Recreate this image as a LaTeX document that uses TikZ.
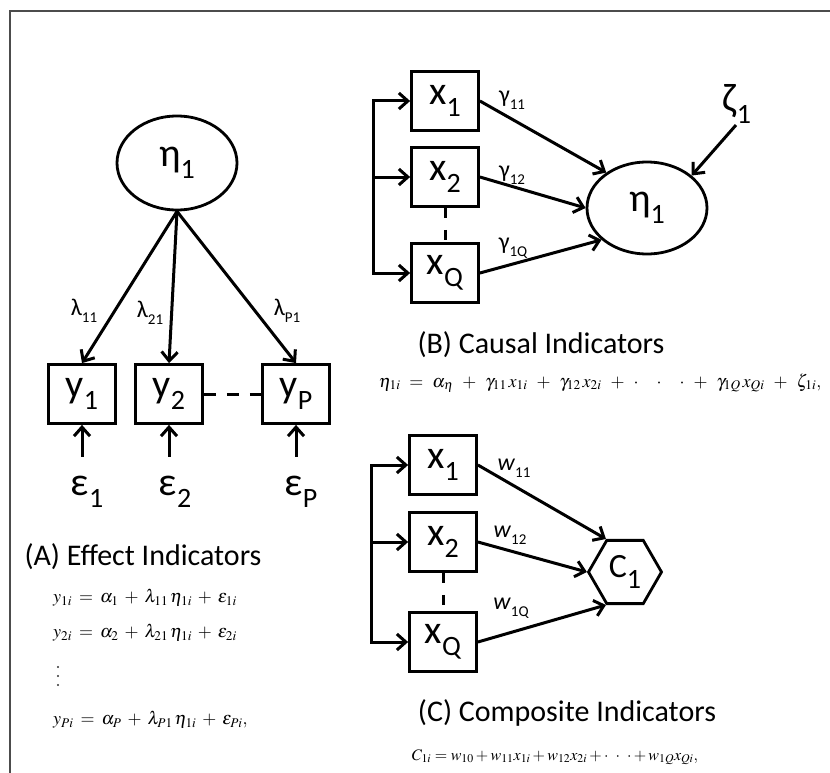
\documentclass[tikz,border=0pt]{standalone}
\usepackage{mathptmx}
\usepackage[no-math]{fontspec}
\setmainfont{Carlito}
\usetikzlibrary{arrows.meta, shapes.geometric}
\newcommand{\lab}[2]{#1\raisebox{-0.3em}{\fontsize{28}{28}\selectfont #2}}
\newcommand{\coefsub}[2]{#1\raisebox{-0.3em}{\fontsize{15}{15}\selectfont #2}}
\newcommand{\ddd}{\mathord{\cdot}\;\;\mathord{\cdot}\;\;\mathord{\cdot}}

\tikzset{
  obs/.style={draw, line width=2.8pt, minimum width=67pt, minimum height=59pt,
              inner sep=0pt, font=\fontsize{40}{40}\selectfont},
  latent/.style={draw, ellipse, line width=2.8pt, minimum width=120pt,
                 minimum height=94pt, inner sep=0pt, font=\fontsize{40}{40}\selectfont},
  composite/.style={draw, regular polygon, regular polygon sides=6, line width=2.8pt,
                    minimum size=73pt, inner sep=0pt, font=\fontsize{34}{34}\selectfont},
  path/.style={->, line width=3pt},
  link/.style={line width=3pt, dash pattern=on 12pt off 11pt},
  coef/.style={font=\fontsize{24}{24}\selectfont},
  title/.style={font=\fontsize{30}{30}\selectfont},
  eqn/.style={font=\fontsize{18}{20}\selectfont, inner sep=0pt},
  err/.style={font=\fontsize{40}{40}\selectfont}
}

\begin{document}
\begin{tikzpicture}[x=1pt, y=-1pt, >={Straight Barb[length=9pt,width=16pt]}]
  \useasboundingbox (0,0) rectangle (830,773);
  % Frame
  \draw[line width=1.4pt, black!70] (830,11) -- (10,11) -- (10,773);

  % (A) Effect indicators
  \node[latent] (etaA) at (177,163) {\lab{η}{1}};
  \node[obs] (y1) at (82,394) {\lab{y}{1}};
  \node[obs] (y2) at (169,394) {\lab{y}{2}};
  \node[obs] (yP) at (296,394) {\lab{y}{P}};
  \draw[path] (etaA.south) -- (y1.north);
  \draw[path] (etaA.south) -- (y2.north);
  \draw[path] (etaA.south) -- (yP.north);
  \draw[link] (y2.east) -- (yP.west);
  \node[coef] (l11) at (84,311) {\coefsub{λ}{11}};
  \node[coef] (l21) at (150,313) {\coefsub{λ}{21}};
  \node[coef] (lP1) at (287,311) {\coefsub{λ}{P1}};
  % errors
  \node[err] (e1) at (87,492) {\lab{ε}{1}};
  \node[err] (e2) at (175,492) {\lab{ε}{2}};
  \node[err] (eP) at (301,492) {\lab{ε}{P}};
  \draw[path] ([yshift=-32pt]y1.south) -- (y1.south);
  \draw[path] ([yshift=-32pt]y2.south) -- (y2.south);
  \draw[path] ([yshift=-32pt]yP.south) -- (yP.south);
  \node[title] (tA) at (143,557) {(A) Effect Indicators};
  \node[eqn, anchor=west] (eqA1) at (53,598)
    {$\medmuskip=6mu \thickmuskip=7mu y_{1i} = \alpha_1 + \lambda_{11}\,\eta_{1i} + \epsilon_{1i}$};
  \node[eqn, anchor=west] (eqA2) at (53,633)
    {$\medmuskip=6mu \thickmuskip=7mu y_{2i} = \alpha_2 + \lambda_{21}\,\eta_{1i} + \epsilon_{2i}$};
  % vertical dots
  \foreach \yy in {667,676,685}
    \fill[black!80] (58,\yy) circle (1.2pt);
  \node[eqn, anchor=west] (eqAP) at (53,720)
    {$\medmuskip=6mu \thickmuskip=7mu y_{Pi} = \alpha_P + \lambda_{P1}\,\eta_{1i} + \epsilon_{Pi},$};

  % (B) Causal indicators
  \node[obs] (x1B) at (445,101) {\lab{x}{1}};
  \node[obs] (x2B) at (445,177) {\lab{x}{2}};
  \node[obs] (xQB) at (445,273) {\lab{x}{Q}};
  \node[latent, minimum height=92pt] (etaB) at (647,208) {\lab{η}{1}};
  \node[err] (zeta) at (737,104) {\lab{ζ}{1}};
  \draw[path, <->] (x1B.west) -- ++(-37,0) |- (xQB.west);
  \draw[path] ([xshift=-37pt]x2B.west) -- (x2B.west);
  \draw[link, dash pattern=on 10pt off 12pt] (x2B.south) -- (xQB.north);
  \draw[path] (x1B.east) -- (etaB.139);
  \draw[path] (x2B.east) -- (etaB.180);
  \draw[path] (xQB.east) -- (etaB.215);
  \draw[path] ([shift={(-1pt,2pt)}]zeta.south) -- (etaB.36);
  \node[coef] (g11) at (512,100) {\coefsub{γ}{11}};
  \node[coef] (g12) at (512,175) {\coefsub{γ}{12}};
  \node[coef] (g1Q) at (513,248) {\coefsub{γ}{1Q}};
  \node[title] (tB) at (541,345) {(B) Causal Indicators};
  \node[eqn] (eqB) at (600,383)
    {$\medmuskip=9mu \thickmuskip=9mu \eta_{1i} = \alpha_\eta + \gamma_{11}\,x_{1i} + \gamma_{12}\,x_{2i} + \ddd + \gamma_{1Q}\,x_{Qi} + \zeta_{1i},$};

  % (C) Composite indicators
  \node[obs] (x1C) at (443,465) {\lab{x}{1}};
  \node[obs] (x2C) at (443,542) {\lab{x}{2}};
  \node[obs] (xQC) at (443,642) {\lab{x}{Q}};
  \node[composite] (C1) at (625,572) {\lab{C}{1}};
  \draw[path, <->] (x1C.west) -- ++(-37,0) |- (xQC.west);
  \draw[path] ([xshift=-37pt]x2C.west) -- (x2C.west);
  \draw[link, dash pattern=on 10pt off 12pt] (x2C.south) -- (xQC.north);
  \draw[path] (x1C.east) -- (C1.120);
  \draw[path] (x2C.east) -- (C1.180);
  \draw[path] (xQC.east) -- (C1.240);
  \node[coef] (w11) at (514,468) {\coefsub{\textit{w}}{11}};
  \node[coef] (w12) at (510,535) {\coefsub{\textit{w}}{12}};
  \node[coef] (w1Q) at (511,608) {\coefsub{\textit{w}}{1Q}};
  \node[title] (tC) at (567,713) {(C) Composite Indicators};
  \node[eqn, font=\fontsize{16}{20}\selectfont] (eqC) at (555,757)
    {$C_{1i} = w_{10} + w_{11}x_{1i} + w_{12}x_{2i} + \ddd + w_{1Q}x_{Qi},$};
\end{tikzpicture}
\end{document}
